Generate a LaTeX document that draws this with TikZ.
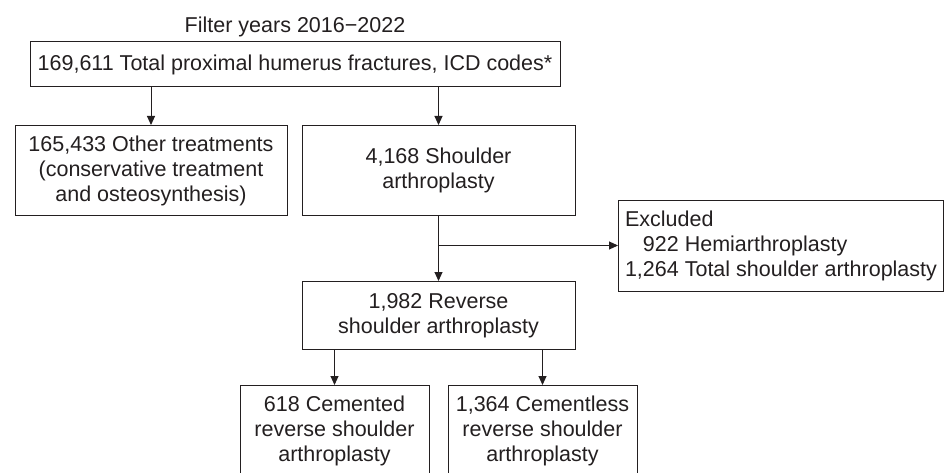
\documentclass[tikz,border=0pt]{standalone}
\usepackage{fontspec}
\setmainfont{Liberation Sans}
\usepackage{tikz}
\usetikzlibrary{arrows.meta, positioning}
\definecolor{ink}{HTML}{231F20}

\begin{document}
\begin{tikzpicture}[x=1pt, y=1pt, font=\fontsize{21.5}{25}\selectfont, text=ink,
	box/.style={draw=ink, line width=1pt, rectangle, align=center, inner sep=4pt},
	arr/.style={-{Triangle[length=9pt, width=8pt]}, draw=ink, line width=1pt}]
		\useasboundingbox (0,0) rectangle (944,-473);
		
		% Nodes
		\node[box, minimum width=530pt, minimum height=45pt] (total) at (295,-64.5) {169,611 Total proximal humerus fractures, ICD codes*};
		\node[above=1pt of total] (filter) {Filter years 2016−2022};
		
		\node[box, anchor=north, minimum width=272pt, minimum height=90pt] (other) at (151,-125) {165,433 Other treatments\\(conservative treatment\\and osteosynthesis)};
		
		\node[box, anchor=north, minimum width=273pt, minimum height=90pt] (shoulder) at (438.5,-125) {4,168 Shoulder\\arthroplasty};
		
		\node[box, below=65pt of shoulder, minimum width=273pt, minimum height=68pt] (reverse) {1,982 Reverse\\shoulder arthroplasty};
		
		\node[box, anchor=west, align=left, minimum width=325pt, minimum height=91pt] (excl) at (618,-245.5) {Excluded\\\phantom{1,}922 Hemiarthroplasty\\1,264 Total shoulder arthroplasty};
		
		\node[box, anchor=north, minimum width=189pt, minimum height=90pt] (cem) at (334.5,-385) {618 Cemented\\reverse shoulder\\arthroplasty};
		
		\node[box, anchor=north, minimum width=189pt, minimum height=90pt] (cemless) at (542.5,-385) {1,364 Cementless\\reverse shoulder\\arthroplasty};
		
		% Arrows
		\draw[arr] (total.south -| other) -- (other);
		\draw[arr] (total.south -| shoulder) -- (shoulder);
		\draw[arr] (shoulder) -- (reverse);
		\draw[arr] (shoulder.south |- excl.west) -- (excl.west);
		\draw[arr] (reverse.south -| cem) -- (cem);
		\draw[arr] (reverse.south -| cemless) -- (cemless);
		
\end{tikzpicture}
\end{document}
